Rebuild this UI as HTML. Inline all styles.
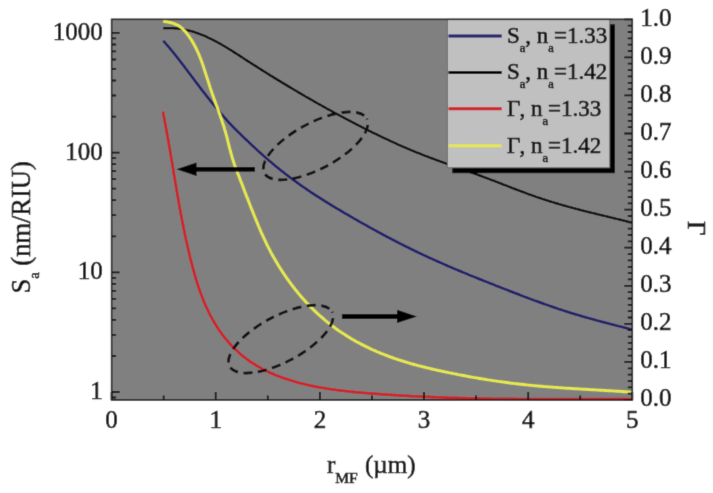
<!DOCTYPE html>
<html><head><meta charset="utf-8"><style>
html,body{margin:0;padding:0;background:#fff;}
body{width:713px;height:493px;overflow:hidden;}
svg{display:block;}
text{font-family:"Liberation Serif","Times New Roman",serif;fill:#111;stroke:#111;stroke-width:0.6px;}
</style></head><body>
<svg width="713" height="493" viewBox="0 0 713 493">
<defs><filter id="soft" x="0" y="0" width="713" height="493" filterUnits="userSpaceOnUse" primitiveUnits="userSpaceOnUse"><feConvolveMatrix order="3" kernelMatrix="0.0113 0.0838 0.0113 0.0838 0.6193 0.0838 0.0113 0.0838 0.0113" edgeMode="duplicate"/></filter></defs>
<g filter="url(#soft)">
<rect x="0" y="0" width="713" height="493" fill="#fff"/>
<rect x="111.6" y="19.3" width="520.7" height="380.7" fill="#808080"/>
<g fill="none" stroke-width="2.2" stroke-linejoin="round" stroke-linecap="butt">
<path d="M163.2,40.9 L164.3,41.9 L165.2,43.0 L166.1,44.0 L167.1,45.1 L168.0,46.2 L168.9,47.2 L169.8,48.3 L170.7,49.4 L171.6,50.5 L172.5,51.5 L173.4,52.6 L174.3,53.7 L175.1,54.8 L176.0,55.9 L176.9,57.0 L177.8,58.1 L178.6,59.2 L179.5,60.3 L180.3,61.5 L181.2,62.6 L182.1,63.7 L182.9,64.8 L183.8,65.9 L184.6,67.1 L185.5,68.2 L186.3,69.3 L187.2,70.4 L188.0,71.6 L188.9,72.7 L189.7,73.8 L190.6,75.0 L191.4,76.1 L192.3,77.2 L193.1,78.3 L194.0,79.5 L194.8,80.6 L195.7,81.7 L196.5,82.9 L197.4,84.0 L198.2,85.1 L199.1,86.3 L200.0,87.4 L200.8,88.5 L201.7,89.7 L202.5,90.8 L203.4,91.9 L204.3,93.0 L205.2,94.1 L206.0,95.3 L206.9,96.4 L207.8,97.5 L208.7,98.6 L209.6,99.7 L210.4,100.8 L211.3,101.9 L212.2,103.0 L213.1,104.1 L214.0,105.2 L214.9,106.3 L215.8,107.4 L216.7,108.5 L217.6,109.6 L218.5,110.7 L219.5,111.8 L220.4,112.8 L221.3,113.9 L222.2,115.0 L223.2,116.0 L224.1,117.1 L225.0,118.1 L226.0,119.2 L226.9,120.2 L227.8,121.3 L228.8,122.3 L229.7,123.3 L230.7,124.3 L231.6,125.3 L232.6,126.3 L233.6,127.3 L234.5,128.3 L235.5,129.3 L236.5,130.3 L237.5,131.3 L238.5,132.3 L239.4,133.2 L240.4,134.2 L241.4,135.2 L242.4,136.1 L243.4,137.1 L244.4,138.1 L245.4,139.0 L246.5,140.0 L247.5,140.9 L248.5,141.9 L249.5,142.9 L250.5,143.8 L251.6,144.8 L252.6,145.8 L253.6,146.7 L254.7,147.7 L255.7,148.7 L256.8,149.6 L257.8,150.6 L258.9,151.6 L259.9,152.5 L261.0,153.5 L262.1,154.4 L263.1,155.4 L264.2,156.3 L265.3,157.3 L266.3,158.2 L267.4,159.1 L268.5,160.1 L269.6,161.0 L270.7,161.9 L271.8,162.8 L272.9,163.8 L274.0,164.7 L275.0,165.6 L276.1,166.5 L277.3,167.4 L278.4,168.3 L279.5,169.2 L280.6,170.1 L281.7,171.0 L282.8,171.8 L283.9,172.7 L285.1,173.6 L286.2,174.5 L287.3,175.3 L288.4,176.2 L289.6,177.1 L290.7,177.9 L291.8,178.8 L293.0,179.6 L294.1,180.4 L295.3,181.3 L296.4,182.1 L297.6,182.9 L298.7,183.8 L299.9,184.6 L301.0,185.4 L302.2,186.2 L303.3,187.0 L304.5,187.8 L305.7,188.6 L306.8,189.4 L308.0,190.2 L309.2,191.0 L310.3,191.8 L311.5,192.6 L312.7,193.3 L313.9,194.1 L315.0,194.9 L316.2,195.7 L317.4,196.4 L318.6,197.2 L319.8,197.9 L321.0,198.7 L322.2,199.4 L323.4,200.2 L324.5,200.9 L325.7,201.7 L326.9,202.4 L328.1,203.2 L329.3,203.9 L330.5,204.6 L331.7,205.4 L332.9,206.1 L334.1,206.8 L335.4,207.6 L336.6,208.3 L337.8,209.0 L339.0,209.7 L340.2,210.4 L341.4,211.2 L342.6,211.9 L343.8,212.6 L345.1,213.3 L346.3,214.0 L347.5,214.7 L348.7,215.4 L349.9,216.1 L351.2,216.8 L352.4,217.5 L353.6,218.3 L354.8,219.0 L356.1,219.7 L357.3,220.4 L358.5,221.1 L359.8,221.8 L361.0,222.5 L362.2,223.1 L363.4,223.8 L364.7,224.5 L365.9,225.2 L367.2,225.9 L368.4,226.6 L369.6,227.3 L370.9,228.0 L372.1,228.7 L373.3,229.3 L374.6,230.0 L375.8,230.7 L377.1,231.4 L378.3,232.1 L379.6,232.7 L380.8,233.4 L382.1,234.1 L383.3,234.8 L384.6,235.4 L385.8,236.1 L387.1,236.8 L388.3,237.4 L389.6,238.1 L390.8,238.7 L392.1,239.4 L393.3,240.1 L394.6,240.7 L395.8,241.4 L397.1,242.0 L398.4,242.7 L399.6,243.3 L400.9,243.9 L402.1,244.6 L403.4,245.2 L404.7,245.9 L405.9,246.5 L407.2,247.1 L408.5,247.7 L409.7,248.4 L411.0,249.0 L412.3,249.6 L413.5,250.2 L414.8,250.9 L416.1,251.5 L417.4,252.1 L418.6,252.7 L419.9,253.3 L421.2,253.9 L422.5,254.5 L423.7,255.1 L425.0,255.7 L426.3,256.3 L427.6,256.9 L428.8,257.5 L430.1,258.1 L431.4,258.7 L432.7,259.2 L434.0,259.8 L435.3,260.4 L436.5,261.0 L437.8,261.5 L439.1,262.1 L440.4,262.7 L441.7,263.2 L443.0,263.8 L444.3,264.4 L445.5,264.9 L446.8,265.5 L448.1,266.1 L449.4,266.6 L450.7,267.2 L452.0,267.7 L453.3,268.3 L454.6,268.8 L455.9,269.4 L457.2,269.9 L458.5,270.5 L459.8,271.0 L461.1,271.5 L462.4,272.1 L463.7,272.6 L465.0,273.2 L466.3,273.7 L467.6,274.2 L468.9,274.8 L470.2,275.3 L471.5,275.8 L472.8,276.4 L474.1,276.9 L475.4,277.4 L476.7,277.9 L478.0,278.5 L479.3,279.0 L480.7,279.5 L482.0,280.0 L483.3,280.6 L484.6,281.1 L485.9,281.6 L487.2,282.1 L488.5,282.7 L489.8,283.2 L491.2,283.7 L492.5,284.2 L493.8,284.7 L495.1,285.3 L496.4,285.8 L497.7,286.3 L499.1,286.8 L500.4,287.3 L501.7,287.9 L503.0,288.4 L504.3,288.9 L505.7,289.4 L507.0,289.9 L508.3,290.4 L509.6,291.0 L511.0,291.5 L512.3,292.0 L513.6,292.5 L514.9,293.0 L516.3,293.5 L517.6,294.0 L518.9,294.5 L520.2,295.1 L521.6,295.6 L522.9,296.1 L524.2,296.6 L525.6,297.1 L526.9,297.6 L528.2,298.1 L529.5,298.6 L530.9,299.1 L532.2,299.6 L533.5,300.1 L534.9,300.6 L536.2,301.0 L537.6,301.5 L538.9,302.0 L540.2,302.5 L541.6,303.0 L542.9,303.5 L544.2,304.0 L545.6,304.4 L546.9,304.9 L548.3,305.4 L549.6,305.8 L550.9,306.3 L552.3,306.8 L553.6,307.2 L555.0,307.7 L556.3,308.1 L557.6,308.6 L559.0,309.1 L560.3,309.5 L561.7,309.9 L563.0,310.4 L564.4,310.8 L565.7,311.3 L567.1,311.7 L568.4,312.1 L569.7,312.5 L571.1,313.0 L572.4,313.4 L573.8,313.8 L575.1,314.2 L576.5,314.6 L577.8,315.0 L579.2,315.4 L580.5,315.8 L581.9,316.2 L583.2,316.6 L584.6,317.0 L585.9,317.4 L587.3,317.8 L588.7,318.1 L590.0,318.5 L591.4,318.9 L592.7,319.3 L594.1,319.6 L595.4,320.0 L596.8,320.4 L598.1,320.7 L599.5,321.1 L600.8,321.5 L602.2,321.8 L603.6,322.2 L604.9,322.5 L606.3,322.9 L607.6,323.3 L609.0,323.6 L610.4,324.0 L611.7,324.3 L613.1,324.7 L614.4,325.0 L615.8,325.4 L617.1,325.7 L618.5,326.1 L619.9,326.4 L621.2,326.8 L622.6,327.1 L624.0,327.5 L625.3,327.8 L626.7,328.2 L628.0,328.5 L629.4,328.9 L630.8,329.2 L632.1,329.6" stroke="#1e1c6a" stroke-width="2.5"/>
<path d="M163.2,28.1 L164.5,28.2 L165.8,28.2 L167.2,28.1 L168.5,28.1 L169.8,28.1 L171.1,28.1 L172.4,28.1 L173.7,28.2 L175.0,28.3 L176.3,28.4 L177.6,28.5 L178.9,28.7 L180.1,28.9 L181.4,29.0 L182.7,29.2 L183.9,29.5 L185.1,29.7 L186.4,30.0 L187.6,30.3 L188.8,30.6 L190.1,30.9 L191.3,31.2 L192.5,31.5 L193.7,31.9 L194.9,32.3 L196.1,32.7 L197.3,33.1 L198.5,33.5 L199.6,34.0 L200.8,34.4 L202.0,34.9 L203.1,35.3 L204.3,35.8 L205.5,36.3 L206.6,36.8 L207.8,37.4 L208.9,37.9 L210.1,38.5 L211.2,39.0 L212.3,39.6 L213.5,40.2 L214.6,40.7 L215.7,41.3 L216.9,41.9 L218.0,42.6 L219.1,43.2 L220.2,43.8 L221.3,44.4 L222.4,45.1 L223.5,45.7 L224.7,46.4 L225.8,47.1 L226.9,47.7 L228.0,48.4 L229.1,49.1 L230.2,49.8 L231.3,50.4 L232.4,51.1 L233.4,51.8 L234.5,52.5 L235.6,53.2 L236.7,53.9 L237.8,54.6 L238.9,55.3 L240.0,56.0 L241.1,56.7 L242.2,57.4 L243.3,58.1 L244.3,58.8 L245.4,59.6 L246.5,60.3 L247.6,61.0 L248.7,61.7 L249.8,62.4 L250.9,63.1 L252.0,63.8 L253.1,64.5 L254.1,65.1 L255.2,65.8 L256.3,66.5 L257.4,67.2 L258.5,67.9 L259.6,68.6 L260.7,69.3 L261.8,70.0 L262.9,70.7 L264.0,71.4 L265.1,72.0 L266.1,72.7 L267.2,73.4 L268.3,74.1 L269.4,74.8 L270.5,75.5 L271.6,76.1 L272.7,76.8 L273.8,77.5 L274.9,78.2 L276.0,78.8 L277.1,79.5 L278.2,80.2 L279.3,80.8 L280.4,81.5 L281.5,82.2 L282.6,82.8 L283.7,83.5 L284.8,84.2 L285.9,84.8 L287.0,85.5 L288.1,86.2 L289.2,86.8 L290.3,87.5 L291.4,88.1 L292.5,88.8 L293.6,89.4 L294.7,90.1 L295.8,90.7 L296.9,91.4 L298.0,92.0 L299.1,92.7 L300.2,93.3 L301.3,94.0 L302.4,94.6 L303.5,95.3 L304.6,95.9 L305.7,96.6 L306.8,97.2 L308.0,97.8 L309.1,98.5 L310.2,99.1 L311.3,99.8 L312.4,100.4 L313.5,101.0 L314.6,101.7 L315.7,102.3 L316.9,102.9 L318.0,103.6 L319.1,104.2 L320.2,104.8 L321.3,105.4 L322.4,106.1 L323.6,106.7 L324.7,107.3 L325.8,107.9 L326.9,108.6 L328.0,109.2 L329.2,109.8 L330.3,110.4 L331.4,111.0 L332.5,111.6 L333.6,112.3 L334.8,112.9 L335.9,113.5 L337.0,114.1 L338.2,114.7 L339.3,115.3 L340.4,115.9 L341.5,116.5 L342.7,117.1 L343.8,117.7 L344.9,118.3 L346.1,118.9 L347.2,119.5 L348.3,120.1 L349.5,120.7 L350.6,121.3 L351.8,121.9 L352.9,122.5 L354.0,123.1 L355.2,123.7 L356.3,124.3 L357.5,124.9 L358.6,125.5 L359.7,126.0 L360.9,126.6 L362.0,127.2 L363.2,127.8 L364.3,128.4 L365.5,128.9 L366.6,129.5 L367.8,130.1 L368.9,130.7 L370.1,131.2 L371.2,131.8 L372.4,132.4 L373.5,132.9 L374.7,133.5 L375.8,134.1 L377.0,134.6 L378.2,135.2 L379.3,135.8 L380.5,136.3 L381.6,136.9 L382.8,137.4 L383.9,138.0 L385.1,138.5 L386.3,139.1 L387.4,139.6 L388.6,140.1 L389.8,140.7 L390.9,141.2 L392.1,141.7 L393.3,142.3 L394.4,142.8 L395.6,143.3 L396.8,143.9 L397.9,144.4 L399.1,144.9 L400.3,145.4 L401.4,145.9 L402.6,146.4 L403.8,147.0 L405.0,147.5 L406.1,148.0 L407.3,148.5 L408.5,149.0 L409.7,149.5 L410.8,150.0 L412.0,150.5 L413.2,150.9 L414.4,151.4 L415.5,151.9 L416.7,152.4 L417.9,152.9 L419.1,153.3 L420.3,153.8 L421.4,154.3 L422.6,154.8 L423.8,155.2 L425.0,155.7 L426.2,156.1 L427.4,156.6 L428.5,157.0 L429.7,157.5 L430.9,157.9 L432.1,158.4 L433.3,158.8 L434.5,159.3 L435.7,159.7 L436.9,160.2 L438.1,160.6 L439.2,161.0 L440.4,161.5 L441.6,161.9 L442.8,162.3 L444.0,162.8 L445.2,163.2 L446.4,163.6 L447.6,164.1 L448.8,164.5 L450.0,164.9 L451.2,165.3 L452.4,165.8 L453.6,166.2 L454.8,166.6 L456.0,167.0 L457.2,167.5 L458.4,167.9 L459.6,168.3 L460.8,168.7 L462.0,169.2 L463.2,169.6 L464.4,170.0 L465.6,170.4 L466.8,170.9 L468.0,171.3 L469.2,171.7 L470.4,172.2 L471.6,172.6 L472.8,173.0 L474.0,173.5 L475.2,173.9 L476.4,174.3 L477.6,174.8 L478.8,175.2 L480.0,175.6 L481.3,176.1 L482.5,176.5 L483.7,177.0 L484.9,177.4 L486.1,177.9 L487.3,178.3 L488.5,178.8 L489.7,179.2 L490.9,179.7 L492.1,180.2 L493.4,180.6 L494.6,181.1 L495.8,181.6 L497.0,182.0 L498.2,182.5 L499.4,183.0 L500.6,183.4 L501.9,183.9 L503.1,184.4 L504.3,184.9 L505.5,185.3 L506.7,185.8 L507.9,186.3 L509.2,186.7 L510.4,187.2 L511.6,187.7 L512.8,188.2 L514.0,188.6 L515.2,189.1 L516.5,189.6 L517.7,190.0 L518.9,190.5 L520.1,191.0 L521.3,191.4 L522.6,191.9 L523.8,192.3 L525.0,192.8 L526.2,193.3 L527.5,193.7 L528.7,194.2 L529.9,194.6 L531.1,195.0 L532.3,195.5 L533.6,195.9 L534.8,196.3 L536.0,196.8 L537.2,197.2 L538.5,197.6 L539.7,198.0 L540.9,198.4 L542.1,198.8 L543.4,199.2 L544.6,199.6 L545.8,200.0 L547.0,200.4 L548.3,200.8 L549.5,201.2 L550.7,201.6 L551.9,202.0 L553.2,202.3 L554.4,202.7 L555.6,203.1 L556.9,203.4 L558.1,203.8 L559.3,204.2 L560.5,204.5 L561.8,204.9 L563.0,205.2 L564.2,205.6 L565.5,205.9 L566.7,206.3 L567.9,206.6 L569.1,207.0 L570.4,207.3 L571.6,207.6 L572.8,208.0 L574.1,208.3 L575.3,208.6 L576.5,209.0 L577.8,209.3 L579.0,209.6 L580.2,209.9 L581.4,210.3 L582.7,210.6 L583.9,210.9 L585.1,211.2 L586.4,211.5 L587.6,211.8 L588.8,212.1 L590.1,212.4 L591.3,212.7 L592.5,213.0 L593.8,213.3 L595.0,213.6 L596.2,213.9 L597.5,214.3 L598.7,214.5 L599.9,214.8 L601.2,215.1 L602.4,215.4 L603.6,215.7 L604.9,216.0 L606.1,216.3 L607.3,216.6 L608.6,216.9 L609.8,217.2 L611.0,217.5 L612.3,217.8 L613.5,218.1 L614.7,218.4 L616.0,218.7 L617.2,219.0 L618.4,219.3 L619.6,219.6 L620.9,219.9 L622.1,220.2 L623.3,220.5 L624.6,220.8 L625.8,221.1 L627.0,221.4 L628.3,221.7 L629.5,222.0 L630.7,222.3 L632.0,222.6" stroke="#000" stroke-width="2.2"/>
<path d="M163.3,111.7 L163.2,113.4 L163.5,115.0 L163.9,116.6 L164.2,118.3 L164.5,119.9 L164.8,121.5 L165.1,123.2 L165.4,124.8 L165.7,126.4 L166.0,128.0 L166.3,129.7 L166.6,131.3 L166.9,132.9 L167.2,134.6 L167.5,136.2 L167.8,137.8 L168.1,139.4 L168.4,141.1 L168.7,142.7 L168.9,144.3 L169.2,145.9 L169.5,147.6 L169.8,149.2 L170.1,150.8 L170.3,152.4 L170.6,154.1 L170.9,155.7 L171.2,157.3 L171.4,159.0 L171.7,160.6 L172.0,162.2 L172.3,163.8 L172.5,165.5 L172.8,167.1 L173.1,168.7 L173.3,170.3 L173.6,172.0 L173.9,173.6 L174.1,175.2 L174.4,176.8 L174.7,178.5 L175.0,180.1 L175.2,181.7 L175.5,183.3 L175.8,184.9 L176.1,186.6 L176.3,188.2 L176.6,189.8 L176.9,191.4 L177.2,193.1 L177.4,194.7 L177.7,196.3 L178.0,197.9 L178.3,199.6 L178.6,201.2 L178.9,202.8 L179.1,204.4 L179.4,206.0 L179.7,207.7 L180.0,209.3 L180.3,210.9 L180.6,212.5 L180.9,214.1 L181.2,215.8 L181.5,217.4 L181.8,219.0 L182.1,220.6 L182.5,222.2 L182.8,223.9 L183.1,225.5 L183.4,227.1 L183.7,228.7 L184.1,230.3 L184.4,232.0 L184.7,233.6 L185.1,235.2 L185.4,236.8 L185.8,238.4 L186.1,240.0 L186.5,241.7 L186.8,243.3 L187.2,244.9 L187.6,246.5 L187.9,248.1 L188.3,249.7 L188.7,251.4 L189.1,253.0 L189.5,254.6 L189.8,256.2 L190.2,257.8 L190.6,259.4 L191.1,261.0 L191.5,262.7 L191.9,264.3 L192.3,265.9 L192.7,267.5 L193.2,269.1 L193.6,270.7 L194.1,272.3 L194.5,273.9 L195.0,275.5 L195.4,277.2 L195.9,278.8 L196.4,280.3 L196.9,281.9 L197.4,283.5 L197.9,285.1 L198.4,286.7 L199.0,288.3 L199.5,289.9 L200.0,291.4 L200.6,293.0 L201.2,294.6 L201.8,296.1 L202.4,297.7 L203.0,299.2 L203.6,300.8 L204.2,302.3 L204.9,303.8 L205.5,305.3 L206.2,306.8 L206.9,308.3 L207.6,309.8 L208.3,311.3 L209.0,312.8 L209.8,314.3 L210.5,315.8 L211.3,317.2 L212.1,318.7 L212.9,320.1 L213.7,321.5 L214.6,322.9 L215.4,324.3 L216.3,325.7 L217.2,327.1 L218.1,328.5 L219.0,329.9 L219.9,331.2 L220.9,332.5 L221.8,333.9 L222.8,335.2 L223.8,336.5 L224.8,337.8 L225.9,339.0 L226.9,340.3 L228.0,341.5 L229.0,342.8 L230.1,344.0 L231.2,345.2 L232.3,346.4 L233.5,347.5 L234.6,348.7 L235.8,349.8 L237.0,350.9 L238.2,352.0 L239.4,353.1 L240.6,354.2 L241.9,355.2 L243.1,356.3 L244.4,357.3 L245.7,358.3 L247.0,359.2 L248.3,360.2 L249.7,361.1 L251.0,362.1 L252.4,363.0 L253.8,363.9 L255.1,364.7 L256.5,365.6 L257.9,366.4 L259.4,367.2 L260.8,368.0 L262.2,368.8 L263.7,369.6 L265.2,370.3 L266.6,371.1 L268.1,371.8 L269.6,372.5 L271.1,373.2 L272.6,373.8 L274.2,374.5 L275.7,375.1 L277.2,375.7 L278.8,376.3 L280.3,376.9 L281.9,377.5 L283.4,378.0 L285.0,378.6 L286.6,379.1 L288.1,379.6 L289.7,380.1 L291.3,380.6 L292.9,381.1 L294.5,381.5 L296.1,382.0 L297.7,382.4 L299.3,382.9 L300.9,383.3 L302.5,383.7 L304.1,384.1 L305.7,384.5 L307.3,384.8 L308.9,385.2 L310.6,385.6 L312.2,385.9 L313.8,386.2 L315.4,386.6 L317.1,386.9 L318.7,387.2 L320.3,387.5 L321.9,387.8 L323.6,388.0 L325.2,388.3 L326.9,388.6 L328.5,388.8 L330.1,389.1 L331.8,389.3 L333.4,389.6 L335.1,389.8 L336.7,390.0 L338.4,390.2 L340.0,390.4 L341.7,390.6 L343.3,390.8 L345.0,391.0 L346.6,391.2 L348.3,391.4 L349.9,391.6 L351.6,391.7 L353.2,391.9 L354.9,392.1 L356.5,392.2 L358.2,392.4 L359.9,392.5 L361.5,392.7 L363.2,392.8 L364.8,393.0 L366.5,393.1 L368.1,393.2 L369.8,393.4 L371.5,393.5 L373.1,393.6 L374.8,393.8 L376.4,393.9 L378.1,394.0 L379.7,394.1 L381.4,394.2 L383.0,394.4 L384.7,394.5 L386.3,394.6 L388.0,394.7 L389.7,394.8 L391.3,394.9 L393.0,395.0 L394.6,395.1 L396.3,395.2 L397.9,395.3 L399.6,395.4 L401.2,395.5 L402.9,395.6 L404.5,395.7 L406.2,395.8 L407.8,395.9 L409.5,396.0 L411.1,396.1 L412.8,396.2 L414.4,396.2 L416.1,396.3 L417.7,396.4 L419.4,396.5 L421.0,396.6 L422.7,396.6 L424.3,396.7 L426.0,396.8 L427.6,396.9 L429.3,396.9 L430.9,397.0 L432.6,397.1 L434.2,397.1 L435.9,397.2 L437.5,397.3 L439.2,397.3 L440.8,397.4 L442.4,397.4 L444.1,397.5 L445.7,397.6 L447.4,397.6 L449.0,397.7 L450.7,397.7 L452.3,397.8 L454.0,397.8 L455.6,397.9 L457.3,397.9 L458.9,398.0 L460.6,398.0 L462.2,398.0 L463.9,398.1 L465.5,398.1 L467.2,398.2 L468.8,398.2 L470.4,398.3 L472.1,398.3 L473.7,398.3 L475.4,398.4 L477.0,398.4 L478.7,398.4 L480.3,398.5 L482.0,398.5 L483.6,398.5 L485.3,398.6 L486.9,398.6 L488.6,398.6 L490.2,398.6 L491.8,398.7 L493.5,398.7 L495.1,398.7 L496.8,398.7 L498.4,398.8 L500.1,398.8 L501.7,398.8 L503.4,398.8 L505.0,398.8 L506.7,398.9 L508.3,398.9 L510.0,398.9 L511.6,398.9 L513.3,398.9 L514.9,398.9 L516.6,398.9 L518.2,399.0 L519.9,399.0 L521.5,399.0 L523.1,399.0 L524.8,399.0 L526.4,399.0 L528.1,399.0 L529.7,399.0 L531.4,399.0 L533.0,399.1 L534.7,399.1 L536.3,399.1 L538.0,399.1 L539.6,399.1 L541.3,399.1 L542.9,399.1 L544.6,399.1 L546.2,399.1 L547.9,399.1 L549.5,399.1 L551.2,399.1 L552.8,399.1 L554.5,399.1 L556.1,399.1 L557.8,399.1 L559.4,399.1 L561.1,399.1 L562.7,399.1 L564.4,399.1 L566.1,399.1 L567.7,399.1 L569.4,399.1 L571.0,399.1 L572.7,399.1 L574.3,399.1 L576.0,399.1 L577.6,399.1 L579.3,399.1 L580.9,399.1 L582.6,399.1 L584.3,399.1 L585.9,399.1 L587.6,399.1 L589.2,399.1 L590.9,399.1 L592.5,399.1 L594.2,399.1 L595.9,399.1 L597.5,399.1 L599.2,399.1 L600.8,399.1 L602.5,399.1 L604.1,399.1 L605.8,399.1 L607.5,399.1 L609.1,399.1 L610.8,399.1 L612.4,399.1 L614.1,399.1 L615.8,399.1 L617.4,399.1 L619.1,399.1 L620.8,399.1 L622.4,399.1 L624.1,399.1 L625.8,399.1 L627.4,399.1 L629.1,399.1 L630.7,399.1 L632.4,399.1" stroke="#d21e26" stroke-width="2.6"/>
<path d="M163.2,21.1 L164.9,21.5 L166.7,21.8 L168.4,22.1 L170.1,22.5 L171.8,22.9 L173.3,23.4 L174.9,23.9 L176.3,24.6 L177.8,25.3 L179.1,26.1 L180.5,27.0 L181.7,28.1 L183.0,29.2 L184.2,30.4 L185.3,31.6 L186.4,32.9 L187.5,34.3 L188.5,35.7 L189.5,37.1 L190.4,38.5 L191.4,39.9 L192.2,41.4 L193.1,42.8 L193.9,44.3 L194.7,45.8 L195.5,47.2 L196.2,48.7 L196.9,50.2 L197.6,51.7 L198.3,53.2 L199.0,54.8 L199.6,56.3 L200.2,57.8 L200.8,59.3 L201.4,60.9 L202.0,62.4 L202.5,64.0 L203.1,65.6 L203.6,67.1 L204.1,68.7 L204.6,70.3 L205.1,71.8 L205.6,73.4 L206.1,75.0 L206.6,76.6 L207.2,78.2 L207.7,79.8 L208.2,81.4 L208.7,83.0 L209.2,84.6 L209.7,86.2 L210.2,87.8 L210.8,89.4 L211.3,91.0 L211.9,92.6 L212.4,94.2 L213.0,95.8 L213.6,97.4 L214.1,99.0 L214.7,100.6 L215.3,102.2 L215.9,103.9 L216.5,105.5 L217.1,107.1 L217.7,108.7 L218.2,110.3 L218.8,111.9 L219.4,113.5 L220.0,115.1 L220.5,116.7 L221.1,118.3 L221.7,120.0 L222.2,121.6 L222.7,123.2 L223.3,124.8 L223.8,126.4 L224.3,128.0 L224.7,129.6 L225.2,131.2 L225.7,132.8 L226.1,134.4 L226.6,136.1 L227.0,137.7 L227.4,139.3 L227.8,140.9 L228.2,142.5 L228.6,144.1 L229.0,145.7 L229.4,147.3 L229.8,148.9 L230.3,150.5 L230.7,152.1 L231.1,153.7 L231.6,155.3 L232.0,156.9 L232.5,158.5 L233.0,160.1 L233.5,161.7 L234.0,163.3 L234.6,164.9 L235.2,166.5 L235.7,168.1 L236.4,169.7 L237.0,171.3 L237.6,172.9 L238.2,174.5 L238.8,176.1 L239.4,177.6 L240.0,179.2 L240.6,180.8 L241.3,182.4 L241.9,184.0 L242.5,185.6 L243.1,187.1 L243.7,188.7 L244.3,190.3 L244.9,191.9 L245.5,193.4 L246.1,195.0 L246.7,196.6 L247.4,198.1 L248.0,199.7 L248.6,201.3 L249.2,202.8 L249.8,204.4 L250.4,206.0 L251.0,207.5 L251.6,209.1 L252.3,210.6 L252.9,212.2 L253.5,213.7 L254.1,215.3 L254.7,216.8 L255.4,218.3 L256.0,219.9 L256.6,221.4 L257.3,222.9 L257.9,224.5 L258.5,226.0 L259.2,227.5 L259.8,229.1 L260.5,230.6 L261.1,232.1 L261.8,233.6 L262.5,235.1 L263.2,236.6 L263.9,238.2 L264.6,239.7 L265.3,241.2 L266.0,242.7 L266.7,244.2 L267.5,245.7 L268.2,247.1 L269.0,248.6 L269.8,250.1 L270.5,251.6 L271.3,253.1 L272.1,254.5 L272.9,256.0 L273.8,257.5 L274.6,258.9 L275.4,260.4 L276.3,261.8 L277.2,263.3 L278.0,264.7 L278.9,266.2 L279.8,267.6 L280.7,269.0 L281.6,270.4 L282.5,271.9 L283.5,273.3 L284.4,274.7 L285.4,276.1 L286.3,277.5 L287.3,278.8 L288.3,280.2 L289.3,281.6 L290.3,283.0 L291.3,284.3 L292.3,285.7 L293.3,287.0 L294.4,288.3 L295.4,289.7 L296.5,291.0 L297.6,292.3 L298.6,293.6 L299.7,294.9 L300.8,296.2 L301.9,297.5 L303.0,298.7 L304.2,300.0 L305.3,301.2 L306.4,302.5 L307.6,303.7 L308.8,304.9 L309.9,306.1 L311.1,307.4 L312.3,308.5 L313.5,309.7 L314.7,310.9 L315.9,312.1 L317.2,313.2 L318.4,314.4 L319.7,315.5 L320.9,316.6 L322.2,317.7 L323.5,318.8 L324.7,319.9 L326.0,321.0 L327.3,322.1 L328.7,323.1 L330.0,324.2 L331.3,325.2 L332.6,326.2 L334.0,327.2 L335.3,328.2 L336.7,329.2 L338.1,330.2 L339.5,331.1 L340.9,332.1 L342.3,333.0 L343.7,333.9 L345.1,334.8 L346.5,335.7 L347.9,336.6 L349.4,337.5 L350.8,338.4 L352.2,339.2 L353.7,340.0 L355.2,340.9 L356.6,341.7 L358.1,342.5 L359.6,343.3 L361.1,344.1 L362.6,344.9 L364.1,345.6 L365.6,346.4 L367.1,347.1 L368.6,347.8 L370.1,348.6 L371.6,349.3 L373.2,350.0 L374.7,350.6 L376.2,351.3 L377.8,352.0 L379.3,352.6 L380.9,353.3 L382.4,353.9 L384.0,354.5 L385.5,355.1 L387.1,355.7 L388.7,356.3 L390.2,356.9 L391.8,357.5 L393.4,358.0 L395.0,358.6 L396.6,359.1 L398.1,359.7 L399.7,360.2 L401.3,360.7 L402.9,361.2 L404.5,361.7 L406.1,362.2 L407.7,362.7 L409.3,363.1 L410.9,363.6 L412.5,364.0 L414.1,364.5 L415.7,364.9 L417.4,365.4 L419.0,365.8 L420.6,366.2 L422.2,366.6 L423.8,367.0 L425.5,367.4 L427.1,367.8 L428.7,368.2 L430.3,368.6 L432.0,369.0 L433.6,369.4 L435.2,369.7 L436.9,370.1 L438.5,370.5 L440.2,370.8 L441.8,371.2 L443.5,371.5 L445.1,371.9 L446.7,372.2 L448.4,372.6 L450.0,372.9 L451.7,373.2 L453.3,373.6 L455.0,373.9 L456.7,374.2 L458.3,374.6 L460.0,374.9 L461.6,375.2 L463.3,375.5 L465.0,375.8 L466.6,376.1 L468.3,376.5 L469.9,376.8 L471.6,377.1 L473.3,377.4 L474.9,377.6 L476.6,377.9 L478.3,378.2 L479.9,378.5 L481.6,378.8 L483.3,379.1 L484.9,379.3 L486.6,379.6 L488.3,379.9 L490.0,380.1 L491.6,380.4 L493.3,380.6 L495.0,380.9 L496.7,381.1 L498.3,381.4 L500.0,381.6 L501.7,381.8 L503.3,382.1 L505.0,382.3 L506.7,382.5 L508.4,382.7 L510.0,383.0 L511.7,383.2 L513.4,383.4 L515.1,383.6 L516.7,383.8 L518.4,384.0 L520.1,384.2 L521.7,384.3 L523.4,384.5 L525.1,384.7 L526.8,384.9 L528.4,385.1 L530.1,385.2 L531.8,385.4 L533.4,385.6 L535.1,385.7 L536.8,385.9 L538.4,386.0 L540.1,386.2 L541.8,386.3 L543.4,386.5 L545.1,386.6 L546.8,386.7 L548.5,386.9 L550.1,387.0 L551.8,387.1 L553.5,387.3 L555.1,387.4 L556.8,387.5 L558.5,387.6 L560.1,387.7 L561.8,387.9 L563.5,388.0 L565.2,388.1 L566.8,388.2 L568.5,388.3 L570.2,388.4 L571.8,388.5 L573.5,388.6 L575.2,388.7 L576.9,388.8 L578.5,388.9 L580.2,389.0 L581.9,389.1 L583.5,389.2 L585.2,389.3 L586.9,389.4 L588.6,389.5 L590.2,389.6 L591.9,389.7 L593.6,389.8 L595.3,389.9 L597.0,390.0 L598.6,390.1 L600.3,390.2 L602.0,390.3 L603.7,390.4 L605.4,390.5 L607.0,390.6 L608.7,390.7 L610.4,390.8 L612.1,390.9 L613.8,391.0 L615.5,391.1 L617.1,391.2 L618.8,391.3 L620.5,391.4 L622.2,391.5 L623.9,391.7 L625.6,391.8 L627.3,391.9 L629.0,392.0 L630.7,392.1 L632.4,392.2" stroke="#e6e850" stroke-width="2.9"/>
</g>
<ellipse cx="315.6" cy="145.9" rx="58" ry="23" transform="rotate(-28 315.6 145.9)" fill="none" stroke="#111" stroke-width="2.7" stroke-dasharray="9,5.5" stroke-dashoffset="8.0"/>
<ellipse cx="280.8" cy="339.1" rx="58" ry="23" transform="rotate(-28 280.8 339.1)" fill="none" stroke="#111" stroke-width="2.7" stroke-dasharray="9,5.5" stroke-dashoffset="8.0"/>
<!-- arrows -->
<g fill="#000">
<rect x="195" y="167" width="60" height="4.6"/>
<polygon points="176.5,169.3 196.5,162.5 196.5,176.1"/>
<rect x="341.9" y="314" width="56" height="4.8"/>
<polygon points="417,316.4 397,309.7 397,323.1"/>
</g>
<!-- legend -->
<rect x="452.3" y="24.3" width="162.5" height="148.9" fill="#000"/>
<rect x="447.3" y="19.3" width="162.5" height="148.5" fill="#c0c0c0" stroke="#6a6a6a" stroke-width="1"/>
<g stroke-width="3">
<line x1="448.5" y1="35.9" x2="501.7" y2="35.9" stroke="#1e1c6a"/>
<line x1="448.5" y1="72.4" x2="501.7" y2="72.4" stroke="#000"/>
<line x1="448.5" y1="108.8" x2="501.7" y2="108.8" stroke="#d21e26"/>
<line x1="448.5" y1="145.7" x2="501.7" y2="145.7" stroke="#e6e850"/>
</g>
<g font-size="23">
<text x="507" y="43.1">S<tspan font-size="12.5" dy="8.6">a</tspan><tspan dy="-8.6">, n</tspan><tspan font-size="12.5" dy="8.6">a</tspan><tspan dy="-8.6">=1.33</tspan></text>
<text x="507" y="78.9">S<tspan font-size="12.5" dy="8.6">a</tspan><tspan dy="-8.6">, n</tspan><tspan font-size="12.5" dy="8.6">a</tspan><tspan dy="-8.6">=1.42</tspan></text>
<text x="507" y="116">Γ<tspan dx="2">, n</tspan><tspan font-size="12.5" dy="8.6">a</tspan><tspan dy="-8.6">=1.33</tspan></text>
<text x="507" y="153">Γ<tspan dx="2">, n</tspan><tspan font-size="12.5" dy="8.6">a</tspan><tspan dy="-8.6">=1.42</tspan></text>
</g>
<!-- frame & ticks -->
<path d="M111.6,400.0 V392.0 M163.7,400.0 V395.5 M215.7,400.0 V392.0 M267.8,400.0 V395.5 M319.9,400.0 V392.0 M371.9,400.0 V395.5 M424.0,400.0 V392.0 M476.1,400.0 V395.5 M528.2,400.0 V392.0 M580.2,400.0 V395.5 M632.3,400.0 V392.0 M111.6,392.0 H119.6 M111.6,356.0 H116.1 M111.6,334.9 H116.1 M111.6,319.9 H116.1 M111.6,308.3 H116.1 M111.6,298.9 H116.1 M111.6,290.8 H116.1 M111.6,283.9 H116.1 M111.6,277.8 H116.1 M111.6,272.3 H119.6 M111.6,236.3 H116.1 M111.6,215.2 H116.1 M111.6,200.2 H116.1 M111.6,188.6 H116.1 M111.6,179.2 H116.1 M111.6,171.1 H116.1 M111.6,164.2 H116.1 M111.6,158.1 H116.1 M111.6,152.6 H119.6 M111.6,116.6 H116.1 M111.6,95.5 H116.1 M111.6,80.5 H116.1 M111.6,68.9 H116.1 M111.6,59.5 H116.1 M111.6,51.4 H116.1 M111.6,44.5 H116.1 M111.6,38.4 H116.1 M111.6,32.9 H119.6 M111.6,397.5 H116.1 M632.3,400.0 H624.3 M632.3,393.7 H627.8 M632.3,387.3 H627.8 M632.3,381.0 H627.8 M632.3,374.6 H627.8 M632.3,368.3 H627.8 M632.3,361.9 H624.3 M632.3,355.6 H627.8 M632.3,349.2 H627.8 M632.3,342.9 H627.8 M632.3,336.6 H627.8 M632.3,330.2 H627.8 M632.3,323.9 H624.3 M632.3,317.5 H627.8 M632.3,311.2 H627.8 M632.3,304.8 H627.8 M632.3,298.5 H627.8 M632.3,292.1 H627.8 M632.3,285.8 H624.3 M632.3,279.4 H627.8 M632.3,273.1 H627.8 M632.3,266.8 H627.8 M632.3,260.4 H627.8 M632.3,254.1 H627.8 M632.3,247.7 H624.3 M632.3,241.4 H627.8 M632.3,235.0 H627.8 M632.3,228.7 H627.8 M632.3,222.3 H627.8 M632.3,216.0 H627.8 M632.3,209.7 H624.3 M632.3,203.3 H627.8 M632.3,197.0 H627.8 M632.3,190.6 H627.8 M632.3,184.3 H627.8 M632.3,177.9 H627.8 M632.3,171.6 H624.3 M632.3,165.2 H627.8 M632.3,158.9 H627.8 M632.3,152.5 H627.8 M632.3,146.2 H627.8 M632.3,139.9 H627.8 M632.3,133.5 H624.3 M632.3,127.2 H627.8 M632.3,120.8 H627.8 M632.3,114.5 H627.8 M632.3,108.1 H627.8 M632.3,101.8 H627.8 M632.3,95.4 H624.3 M632.3,89.1 H627.8 M632.3,82.8 H627.8 M632.3,76.4 H627.8 M632.3,70.1 H627.8 M632.3,63.7 H627.8 M632.3,57.4 H624.3 M632.3,51.0 H627.8 M632.3,44.7 H627.8 M632.3,38.3 H627.8 M632.3,32.0 H627.8 M632.3,25.6 H627.8 M632.3,19.3 H624.3" stroke="#151515" stroke-width="1.8" fill="none"/>
<rect x="111.6" y="19.3" width="520.7" height="380.7" fill="none" stroke="#1a1a1a" stroke-width="1.6"/>
<g font-size="25">
<text x="111.6" y="428.3" text-anchor="middle">0</text>
<text x="215.7" y="428.3" text-anchor="middle">1</text>
<text x="319.9" y="428.3" text-anchor="middle">2</text>
<text x="424.0" y="428.3" text-anchor="middle">3</text>
<text x="528.2" y="428.3" text-anchor="middle">4</text>
<text x="632.3" y="428.3" text-anchor="middle">5</text>
<text x="102.8" y="39.9" text-anchor="end">1000</text>
<text x="102.8" y="159.6" text-anchor="end">100</text>
<text x="102.8" y="279.3" text-anchor="end">10</text>
<text x="102.8" y="399.0" text-anchor="end">1</text>
<text x="640.3" y="406.4">0.0</text>
<text x="640.3" y="368.3">0.1</text>
<text x="640.3" y="330.3">0.2</text>
<text x="640.3" y="292.2">0.3</text>
<text x="640.3" y="254.1">0.4</text>
<text x="640.3" y="216.1">0.5</text>
<text x="640.3" y="178.0">0.6</text>
<text x="640.3" y="139.9">0.7</text>
<text x="640.3" y="101.8">0.8</text>
<text x="640.3" y="63.8">0.9</text>
<text x="640.3" y="25.7">1.0</text>
</g>
<text x="327" y="472.8" font-size="25">r<tspan font-size="15.5" dy="10">MF</tspan><tspan dy="-10" dx="1"> (µm)</tspan></text>
<text transform="translate(29.5,293.5) rotate(-90)" font-size="26.5">S<tspan font-size="14.5" dy="9.4">a</tspan><tspan dy="-9.4"> (nm/RIU)</tspan></text>
<text transform="translate(688.4,221) rotate(90)" font-size="25">Γ</text>
</g>
</svg>
</body></html>
